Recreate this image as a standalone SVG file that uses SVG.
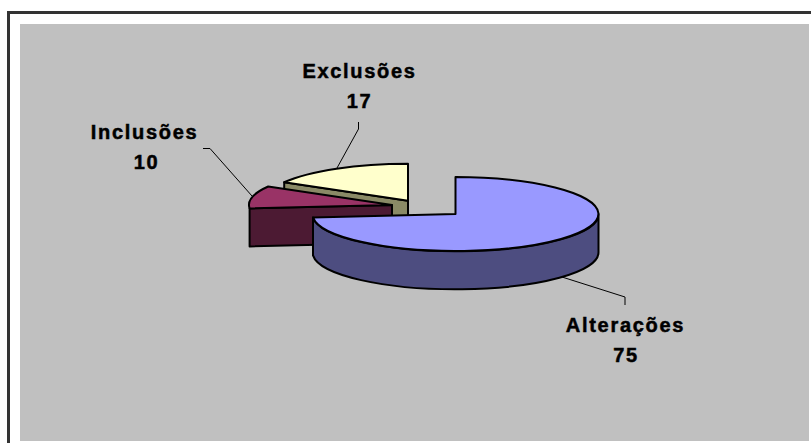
<svg xmlns="http://www.w3.org/2000/svg" width="811" height="443" viewBox="0 0 811 443">
<style>
.lbl{font-family:"Liberation Sans",Arial,sans-serif;font-weight:bold;font-size:20px;letter-spacing:1.7px;fill:#000;stroke:#000;stroke-width:0.5px;text-anchor:middle}
.edge{stroke:#000;stroke-width:2;stroke-linejoin:round}
.lead{stroke:#000;stroke-width:1;fill:none}
</style>
<rect x="8.5" y="12.5" width="810" height="440" fill="#fff" stroke="#333" stroke-width="3"/>
<rect x="20" y="24" width="789" height="417" fill="#c0c0c0"/>
<g id="exclusoes">
<path class="edge" fill="#8a8a66" d="M284.2,182.2 L408,200.7 L408,238 L284.2,219.5 Z"/>
<path class="edge" fill="#ffffcc" d="M408,200.7 L284.2,182.2 A143,37 0 0 1 408,163.7 Z"/>
</g>
<g id="inclusoes">
<path class="edge" fill="#4c1a33" d="M249.6,208.4 L392,205 L392,243 L249.6,246.4 Z"/>
<path class="edge" fill="#993366" d="M392,205 L268.2,186.5 A143,37 0 0 0 249.6,208.4 Z"/>
</g>
<g id="alteracoes">
<path class="edge" fill="#4d4d80" d="M313,217.4 A143,37 0 0 0 598.5,214 L598.5,252 A143,37 0 0 1 313,255.4 Z"/>
<path class="edge" fill="#9999ff" d="M455.5,177 A143,37 0 1 1 313,217.4 L455.5,214 Z"/>
</g>
<g id="connectors">
<polyline class="lead" points="337,168 358.5,129 358.5,122"/>
<polyline class="lead" points="203,148.5 210,148.5 252,196"/>
<polyline class="lead" points="562,277 625,297 625,305"/>
</g>
<g id="labels">
<text class="lbl" x="359.5" y="78.3">Exclusões</text>
<text class="lbl" x="359.5" y="108.3">17</text>
<text class="lbl" x="144.5" y="139.3">Inclusões</text>
<text class="lbl" x="146.5" y="169.3">10</text>
<text class="lbl" x="625.5" y="332.3">Alterações</text>
<text class="lbl" x="626" y="362">75</text>
</g>
</svg>
